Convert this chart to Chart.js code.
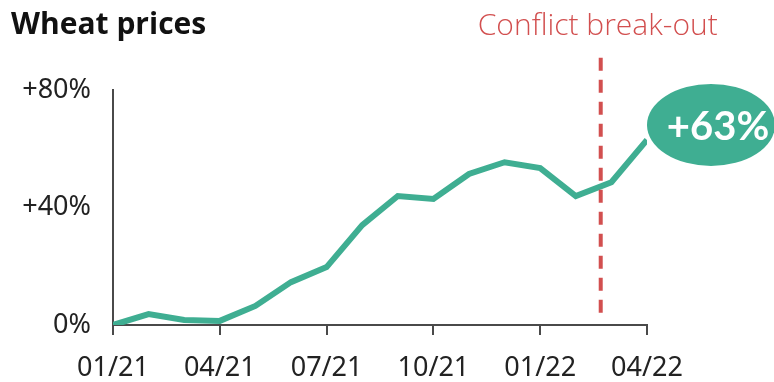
<!DOCTYPE html>
<html>
<head>
<meta charset="utf-8">
<script src="https://cdn.jsdelivr.net/npm/chart.js@4/dist/chart.umd.min.js"></script>
<style>
  html, body { margin: 0; padding: 0; background: #fff; }
  canvas { display: block; }
</style>
</head>
<body>
<canvas id="wheat" width="774" height="382"></canvas>
<script>
// monthly wheat price change since Jan 2021, in %
const months = ['01/21', '02/21', '03/21', '04/21', '05/21', '06/21', '07/21', '08/21',
                '09/21', '10/21', '11/21', '12/21', '01/22', '02/22', '03/22', '04/22'];
const change = [0, 3.7, 1.7, 1.4, 6.5, 14.6, 19.7, 34, 43.9, 42.9, 51.4, 55.4, 53.4, 43.9, 48.6, 63];
const yTicks = [0, 40, 80];
const breakOut = 13.7;   // late Feb 2022
const breakOutLabel = 'Conflict break-out';
const chartTitle = 'Wheat prices';

const green = '#3fae92';
const red = '#d24f4f';
const axisCol = '#4a4a4a';
const tickFont = { family: 'Noto Sans', size: 27, weight: '400' };

const extras = {
  id: 'extras',
  afterDatasetsDraw(chart) {
    const { ctx, scales: { x, y } } = chart;

    // dashed marker for the conflict start
    const bx = x.getPixelForValue(breakOut);
    ctx.save();
    ctx.strokeStyle = red;
    ctx.lineWidth = 4;
    ctx.setLineDash([13, 9]);
    ctx.beginPath();
    ctx.moveTo(bx, y.getPixelForValue(91));
    ctx.lineTo(bx, y.getPixelForValue(2));
    ctx.stroke();
    ctx.restore();

    // bubble on the last point
    const last = change.length - 1;
    const px = x.getPixelForValue(last);
    const py = y.getPixelForValue(change[last]);
    const cx = px + 64, cy = py - 15;
    ctx.save();
    ctx.fillStyle = green;
    ctx.beginPath();
    ctx.ellipse(cx, cy, 64, 41, 0, 0, Math.PI * 2);
    ctx.fill();
    ctx.fillStyle = '#fff';
    ctx.font = 'bold 40px Lato';
    ctx.textAlign = 'center';
    ctx.textBaseline = 'middle';
    ctx.fillText('+' + change[last] + '%', cx + 7, cy + 2);
    ctx.restore();
  },
  afterDraw(chart) {
    const { ctx, scales: { x } } = chart;
    ctx.save();
    ctx.fillStyle = '#111';
    ctx.font = 'bold 30px "Open Sans"';
    ctx.textAlign = 'left';
    ctx.textBaseline = 'alphabetic';
    ctx.fillText(chartTitle, 11, 34);

    ctx.fillStyle = red;
    ctx.font = '300 30px "Open Sans"';
    ctx.textAlign = 'center';
    ctx.fillText(breakOutLabel, x.getPixelForValue(breakOut) - 3, 35);
    ctx.restore();
  }
};

new Chart(document.getElementById('wheat'), {
  type: 'line',
  data: {
    datasets: [{
      data: change.map((v, i) => ({ x: i, y: v })),
      borderColor: green,
      borderWidth: 6,
      pointRadius: 0,
      tension: 0,
      fill: false
    }]
  },
  options: {
    responsive: false,
    animation: false,
    layout: { padding: { top: 90, right: 127, bottom: 4, left: 0 } },
    plugins: { legend: { display: false }, tooltip: { enabled: false } },
    scales: {
      x: {
        type: 'linear',
        min: 0,
        max: months.length - 1,
        afterFit: s => { s.height = 53; },
        ticks: {
          stepSize: 3,
          callback: v => months[v],
          color: '#222',
          font: tickFont,
          padding: 17,
          maxRotation: 0
        },
        grid: { drawOnChartArea: false, tickLength: 10, color: axisCol, lineWidth: 2 },
        border: { color: axisCol, width: 2 }
      },
      y: {
        min: 0,
        max: 80,
        afterFit: s => { s.width = 113; },
        afterBuildTicks: s => { s.ticks = yTicks.map(v => ({ value: v })); },
        ticks: {
          callback: v => (v > 0 ? '+' : '') + v + '%',
          color: '#222',
          font: tickFont,
          padding: 14
        },
        grid: { display: false },
        border: { color: axisCol, width: 2 }
      }
    }
  },
  plugins: [extras]
});
</script>
</body>
</html>
